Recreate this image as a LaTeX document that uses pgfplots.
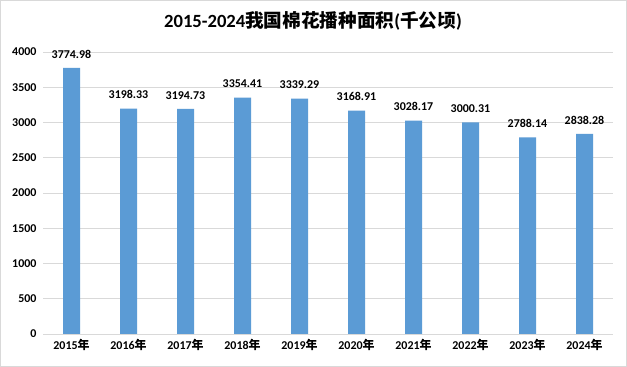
\documentclass[border=0pt]{standalone}
\usepackage{fontspec}
\setmainfont{Carlito}
\newfontfamily\cjk{Noto Sans CJK SC}
\usepackage{pgfplots}
\pgfplotsset{compat=1.18}
\definecolor{barblue}{HTML}{5B9BD5}
\definecolor{gridgray}{HTML}{D9D9D9}
\begin{document}
\begin{tikzpicture}
\path[use as bounding box, draw=gridgray, fill=white, line width=1bp] (0.5bp,0.5bp) rectangle (626.5bp,366.5bp);
\node[font=\fontsize{18.7}{21}\selectfont\bfseries, anchor=base] at (313bp,339bp) {2015-2024{\cjk\bfseries 我国棉花播种面积}({\cjk\bfseries 千公顷})};
\begin{axis}[
  at={(43bp,33bp)}, anchor=south west,
  scale only axis, width=570bp, height=282bp,
  xmin=-0.5, xmax=9.5, ymin=0, ymax=4000,
  ytick={0,500,...,4000},
  xtick={0,...,9},
  xticklabels={2015{\cjk\bfseries 年},2016{\cjk\bfseries 年},2017{\cjk\bfseries 年},2018{\cjk\bfseries 年},2019{\cjk\bfseries 年},2020{\cjk\bfseries 年},2021{\cjk\bfseries 年},2022{\cjk\bfseries 年},2023{\cjk\bfseries 年},2024{\cjk\bfseries 年}},
  ymajorgrids, grid style={gridgray, line width=0.8bp},
  axis line style={draw=none},
  axis x line*=bottom,
  x axis line style={gridgray, line width=0.8bp, draw},
  major tick length=0pt,
  ticklabel style={font=\fontsize{12}{14}\selectfont\bfseries},
  /pgf/number format/assume math mode=true,
  /pgf/number format/1000 sep={},
  xticklabel style={yshift=-2bp},
  yticklabel style={xshift=-3bp},
  nodes near coords,
  nodes near coords style={font=\fontsize{12}{14}\selectfont\bfseries},
  point meta=explicit symbolic,
]
\addplot[ybar, bar width=17bp, fill=barblue, draw=none, nodes near coords align={vertical}, every node near coord/.append style={yshift=6bp}] coordinates {
(0,3774.98)[3774.98] (1,3198.33)[3198.33] (2,3194.73)[3194.73] (3,3354.41)[3354.41] (4,3339.29)[3339.29]
(5,3168.91)[3168.91] (6,3028.17)[3028.17] (7,3000.31)[3000.31] (8,2788.14)[2788.14] (9,2838.28)[2838.28]};
\end{axis}
\end{tikzpicture}
\end{document}
